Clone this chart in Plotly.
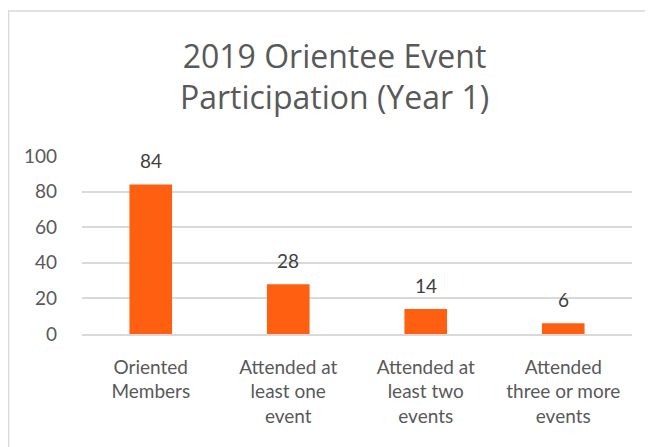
import plotly.graph_objects as go

categories = ["Oriented<br>Members", "Attended at<br>least one<br>event", "Attended at<br>least two<br>events", "Attended<br>three or more<br>events"]
values = [84, 28, 14, 6]
y_ticks = [0, 20, 40, 60, 80, 100]
title_text = "2019 Orientee Event<br>Participation (Year 1)"

FONT = "Lato"
TFONT = "Open Sans"
fig = go.Figure()
fig.add_trace(go.Bar(x=categories, y=values, marker=dict(color="#FE5F10", line=dict(width=0)),
                     width=0.31, hoverinfo="skip"))

for c, v in zip(categories, values):
    fig.add_annotation(x=c, y=v, text=str(v), showarrow=False, xref="x", yref="y",
                       yanchor="bottom", yshift=10, font=dict(family=FONT, size=19, color="#404040"))

fig.add_shape(type="rect", xref="paper", yref="paper", x0=-0.1336, x1=1.1, y0=-0.8, y1=1.8146,
              line=dict(color="#d9d9d9", width=1.5), fillcolor="rgba(0,0,0,0)", layer="below")

fig.update_layout(
    width=653, height=447,
    margin=dict(l=74, r=29, t=148, b=121, autoexpand=False),
    paper_bgcolor="white", plot_bgcolor="white",
    showlegend=False,
    title=dict(text=title_text, x=0.5, xref="container", xanchor="center", y=0.866, yref="container",
               yanchor="top", font=dict(family=TFONT, size=32, color="#595959")),
    font=dict(family=FONT, color="#595959"),
    xaxis=dict(showgrid=False, showline=True, linecolor="#d9d9d9", linewidth=1.5,
               tickfont=dict(family=FONT, size=19, color="#595959"), ticks="",
               ticklabelstandoff=15, fixedrange=True, automargin=False),
    yaxis=dict(range=[0, 100], tickvals=y_ticks, showgrid=True, gridcolor="#d9d9d9", gridwidth=1.5,
               zeroline=False, showline=False, ticks="",
               tickfont=dict(family=FONT, size=19, color="#595959"), ticklabelstandoff=24,
               fixedrange=True, automargin=False),
)
fig.write_html("out.html")
